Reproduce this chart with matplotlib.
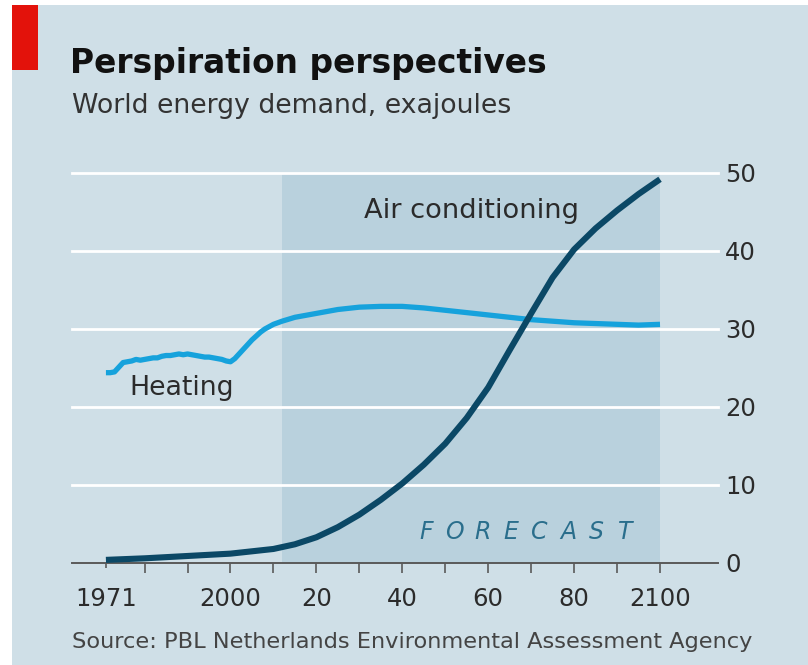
import matplotlib
matplotlib.use("Agg")
import matplotlib.pyplot as plt
from matplotlib.patches import Rectangle

# heating, history (annual) then forecast
heat_years = [1971, 1972, 1973, 1974, 1975, 1976, 1977, 1978, 1979, 1980,
              1981, 1982, 1983, 1984, 1985, 1986, 1987, 1988, 1989, 1990,
              1991, 1992, 1993, 1994, 1995, 1996, 1997, 1998, 1999, 2000,
              2001, 2002, 2003, 2004, 2005, 2006, 2007, 2008, 2009, 2010,
              2011, 2012, 2015, 2020, 2025, 2030, 2035, 2040, 2045, 2050,
              2055, 2060, 2065, 2070, 2075, 2080, 2085, 2090, 2095, 2100]
heat_vals = [24.4, 24.4, 24.5, 25.1, 25.7, 25.8, 25.9, 26.1, 26.0, 26.1,
             26.2, 26.3, 26.3, 26.5, 26.6, 26.6, 26.7, 26.8, 26.7, 26.8,
             26.7, 26.6, 26.5, 26.4, 26.4, 26.3, 26.2, 26.1, 25.9, 25.8,
             26.2, 26.8, 27.4, 28.0, 28.6, 29.1, 29.6, 30.0, 30.3, 30.6,
             30.8, 31.0, 31.5, 32.0, 32.5, 32.8, 32.9, 32.9, 32.7, 32.4,
             32.1, 31.8, 31.5, 31.2, 31.0, 30.8, 30.7, 30.6, 30.5, 30.6]

# air conditioning
ac_years = [1971, 1980, 1990, 2000, 2005, 2010, 2015, 2020, 2025, 2030,
            2035, 2040, 2045, 2050, 2055, 2060, 2065, 2070, 2075, 2080,
            2085, 2090, 2095, 2100]
ac_vals = [0.4, 0.6, 0.9, 1.2, 1.5, 1.8, 2.4, 3.3, 4.6, 6.2,
           8.1, 10.2, 12.6, 15.3, 18.6, 22.5, 27.3, 32.0, 36.6, 40.2,
           42.9, 45.2, 47.3, 49.2]

forecast_start = 2012
forecast_end = 2100

major_ticks = list(range(1980, 2101, 10))
major_labels = ["", "", "2000", "", "20", "", "40", "", "60", "", "80", "", "2100"]
y_ticks = [0, 10, 20, 30, 40, 50]

W, H = 808, 665
BG = "#cfdfe7"
SHADE = "#b9d1dd"
HEAT = "#16a2dc"
AC = "#0b4866"
TXT = "#2b2b2b"

plt.rcParams["font.family"] = ["DejaVu Sans"]


def fx(px):
    return px / W


def fy(py):
    return 1 - py / H


fig = plt.figure(figsize=(W / 100, H / 100), dpi=100, facecolor="white")
renderer = fig.canvas.get_renderer()


def fit_text(x0, x1, base, s, **kw):
    # place text so it spans about x0..x1 pixels, baseline at base
    t = fig.text(fx(x0), fy(base), s, va="baseline", fontsize=20, **kw)
    w = t.get_window_extent(renderer).width
    t.set_fontsize(20 * (x1 - x0) / w)
    return t


fig.patches.append(Rectangle((fx(12), 0), 1 - fx(12), fy(5), transform=fig.transFigure,
                             facecolor=BG, edgecolor="none", zorder=-10))
fig.patches.append(Rectangle((fx(12), fy(70)), fx(38) - fx(12), fy(5) - fy(70),
                             transform=fig.transFigure, facecolor="#e3120b",
                             edgecolor="none", zorder=-5))

ax = fig.add_axes([fx(72), fy(563), fx(718) - fx(72), fy(173) - fy(563)])
ax.set_facecolor("none")
ax.set_xlim(1963.1, 2113.5)
ax.set_ylim(0, 50)

ax.axvspan(forecast_start, forecast_end, color=SHADE, zorder=0, lw=0)

for v in y_ticks[1:]:
    ax.axhline(v, color="white", lw=2.0, zorder=1, clip_on=False)

for s in ["top", "right", "left"]:
    ax.spines[s].set_visible(False)
ax.spines["bottom"].set_color("#5a5a5a")
ax.spines["bottom"].set_linewidth(1.4)

ax.plot(heat_years, heat_vals, color=HEAT, lw=3.8, zorder=3, clip_on=False,
        solid_capstyle="butt", solid_joinstyle="round")
ax.plot(ac_years, ac_vals, color=AC, lw=4.4, zorder=4, clip_on=False,
        solid_capstyle="butt", solid_joinstyle="round")

ax.set_xticks(major_ticks, major_labels)
ax.set_xticks([1971], ["1971"], minor=True)
ax.tick_params(axis="x", which="major", length=7, width=1.2, color="#5a5a5a",
               pad=10, labelsize=17.5, labelcolor=TXT)
ax.tick_params(axis="x", which="minor", length=3.5, width=1.2, color="#5a5a5a",
               pad=13.5, labelsize=17.5, labelcolor=TXT)

ax.yaxis.tick_right()
ax.set_yticks(y_ticks)
ax.tick_params(axis="y", length=0, pad=5, labelsize=17.5, labelcolor=TXT)

fit_text(70, 548, 73, "Perspiration perspectives", fontweight="bold", color="#111111")
fit_text(72, 512, 113, "World energy demand, exajoules", color="#333333")
fit_text(72, 752, 648, "Source: PBL Netherlands Environmental Assessment Agency",
         color="#444444")
fit_text(129, 234, 395, "Heating", color=TXT)
fit_text(364, 578, 218, "Air conditioning", color=TXT)

# letter-spaced FORECAST label
for i, ch in enumerate("FORECAST"):
    fig.text(fx(426 + i * 28.4), fy(539), ch, fontsize=17, color="#2a6e8c",
             style="italic", ha="center", va="baseline")

fig.savefig("out.png", dpi=100, facecolor="white")
